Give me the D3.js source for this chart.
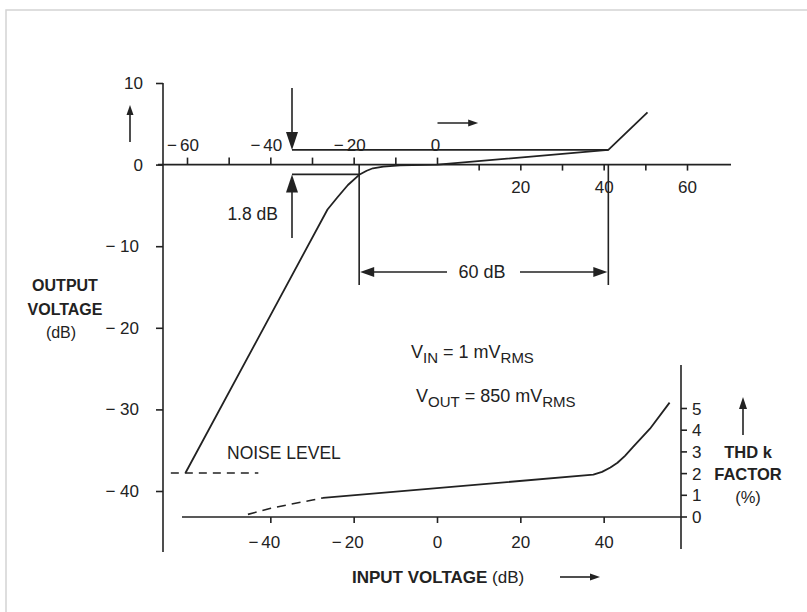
<!DOCTYPE html>
<html>
<head>
<meta charset="utf-8" />
<script src="https://d3js.org/d3.v7.min.js"></script>
<style>
  body { margin: 0; background: #fff; }
  text { font-family: "Liberation Sans", Arial, sans-serif; fill: #222; }
  .bold { font-weight: bold; }
</style>
</head>
<body>
<script>
// transfer curve: output level (dB) vs input level (dB)
const transferIn  = [-60.5, -26.4, -24, -21.5, -18.8, -17, -15.5, -13, -9, 0, 41, 50.4];
const transferOut = [-37.8, -5.5, -4.0, -2.5, -1.25, -0.75, -0.45, -0.25, -0.1, 0, 1.8, 6.4];

// THD k factor (%) vs input level (dB)
const thdDashIn = [-45.5, -40, -35, -30, -27.5];
const thdDashK  = [0.12, 0.4, 0.6, 0.78, 0.88];
const thdIn = [-27.5, 37.4, 39.5, 41.5, 43.2, 45, 47, 51, 55.7];
const thdK  = [0.88, 1.95, 2.08, 2.28, 2.5, 2.82, 3.24, 4.07, 5.27];

// ticks
const outTicks = [10, 0, -10, -20, -30, -40];
const inTicksTop = [-60, -50, -40, -30, -20, -10, 0, 10, 20, 30, 40, 50, 60];
const inLabelsAbove = [-60, -40, -20, 0];
const inLabelsBelow = [20, 40, 60];
const inTicksBottom = [-40, -20, 0, 20, 40];
const thdTicks = [0, 1, 2, 3, 4, 5];

// annotations
const noiseLevel = -37.8;
const noiseSpan = [-64, -43];
const kneeLow = { inp: -18.8, out: -1.2 };
const kneeHigh = { inp: 41, out: 1.8 };
const spanLabel = '60 dB';

const W = 807, H = 612;
const ink = '#222';

const svg = d3.select('body').append('svg')
  .attr('width', W).attr('height', H);

// faint scan frame
svg.append('path')
  .attr('d', `M6,${H} L6,10 L${W},10`)
  .attr('fill', 'none').attr('stroke', '#d4d4d4').attr('stroke-width', 1.5);

// scales
const xIn = d3.scaleLinear().domain([-60, 60]).range([187.5, 687.5]);
const yOut = d3.scaleLinear().domain([-40, 10]).range([491, 83]);
const yThd = d3.scaleLinear().domain([0, 5]).range([517, 408.5]);

const x0 = 163;              // output axis position
const yTop = yOut(0);        // input axis (top)
const yBot = yThd(0);        // input axis (bottom)
const xR = 681;              // thd axis position

function line(x1, y1, x2, y2, w = 1.6) {
  return svg.append('line')
    .attr('x1', x1).attr('y1', y1).attr('x2', x2).attr('y2', y2)
    .attr('stroke', ink).attr('stroke-width', w);
}

function arrow(x1, y1, x2, y2, len, half, w = 1.6) {
  const a = Math.atan2(y2 - y1, x2 - x1);
  const bx = x2 - len * Math.cos(a), by = y2 - len * Math.sin(a);
  line(x1, y1, bx + Math.cos(a), by + Math.sin(a), w);
  const px = -Math.sin(a) * half, py = Math.cos(a) * half;
  svg.append('path')
    .attr('d', `M${x2},${y2} L${bx + px},${by + py} L${bx - px},${by - py} Z`)
    .attr('fill', ink);
}

// digits centred on tick, minus hanging to the left
function numLabel(x, y, v, size = 17) {
  const t = svg.append('text')
    .attr('x', x).attr('y', y)
    .attr('text-anchor', 'middle')
    .attr('font-size', size)
    .text(Math.abs(v));
  if (v < 0) {
    const w = t.node().getComputedTextLength();
    svg.append('text')
      .attr('x', x - w / 2 - 3).attr('y', y)
      .attr('text-anchor', 'end')
      .attr('font-size', size)
      .text('−');
  }
}

// ---- output axis (left)
line(x0, yOut(10), x0, 552);
svg.append('g')
  .attr('transform', `translate(${x0},0)`)
  .call(d3.axisLeft(yOut).tickValues(outTicks).tickSize(7).tickFormat(''))
  .call(g => g.select('.domain').remove())
  .call(g => g.selectAll('.tick line').attr('stroke', ink).attr('stroke-width', 1.6));
outTicks.forEach(v => {
  svg.append('text')
    .attr('x', v < 0 ? 139 : 143).attr('y', yOut(v) + 6)
    .attr('text-anchor', 'end').attr('font-size', 17)
    .text(v < 0 ? '− ' + Math.abs(v) : v);
});
arrow(130, 142, 130, 105, 10, 3.5);

// ---- input axis (top, on 0 dB output line)
line(158, yTop, 731, yTop);
inTicksTop.forEach(v => {
  const up = v <= 0;
  line(xIn(v), yTop, xIn(v), up ? yTop - 7 : yTop + 6);
});
inLabelsAbove.forEach(v => numLabel(xIn(v) + (v === 0 ? -2 : 2), yTop - 14, v));
inLabelsBelow.forEach(v => numLabel(xIn(v), yTop + 28, v));
arrow(xIn(0), 123, xIn(10) - 1, 123, 10, 3.5);

// ---- transfer curve
const pts = transferIn.map((d, i) => [xIn(d), yOut(transferOut[i])]);
svg.append('path')
  .attr('d', d3.line()(pts))
  .attr('fill', 'none').attr('stroke', ink).attr('stroke-width', 1.8)
  .attr('stroke-linejoin', 'round');

// noise level
line(xIn(noiseSpan[0]), yOut(noiseLevel), xIn(noiseSpan[1]), yOut(noiseLevel))
  .attr('stroke-dasharray', '8,6');
svg.append('text')
  .attr('x', 227).attr('y', 459).attr('font-size', 17.5)
  .text('NOISE LEVEL');

// 1.8 dB compression marks
const xMark = 292;
line(xMark, yOut(kneeHigh.out), xIn(kneeHigh.inp), yOut(kneeHigh.out));
line(xMark, yOut(kneeLow.out), xIn(kneeLow.inp), yOut(kneeLow.out));
arrow(xMark, 88, xMark, yOut(kneeHigh.out), 18, 6);
arrow(xMark, 238, xMark, yOut(kneeLow.out), 18, 6);
svg.append('text')
  .attr('x', 278).attr('y', 220).attr('text-anchor', 'end').attr('font-size', 17.5)
  .text('1.8 dB');

// 60 dB span
const ySpan = 272;
line(xIn(kneeLow.inp), yTop, xIn(kneeLow.inp), 285);
line(xIn(kneeHigh.inp), yTop, xIn(kneeHigh.inp), 285);
arrow(447, ySpan, xIn(kneeLow.inp) + 1, ySpan, 14, 5);
arrow(520, ySpan, xIn(kneeHigh.inp) - 1, ySpan, 14, 5);
svg.append('text')
  .attr('x', 482).attr('y', ySpan + 6).attr('text-anchor', 'middle').attr('font-size', 18)
  .text(spanLabel);

// ---- input axis (bottom, THD base)
line(182, yBot, xR, yBot);
inTicksBottom.forEach(v => {
  line(xIn(v), yBot, xIn(v), yBot + 6);
  numLabel(xIn(v), yBot + 31, v);
});

// ---- THD axis (right)
line(xR, 365, xR, 549);
thdTicks.forEach(v => {
  line(xR, yThd(v), xR + 6, yThd(v));
  svg.append('text')
    .attr('x', 692).attr('y', yThd(v) + 6).attr('font-size', 17)
    .text(v);
});

// ---- THD curve
svg.append('path')
  .attr('d', d3.line()(thdDashIn.map((d, i) => [xIn(d), yThd(thdDashK[i])])))
  .attr('fill', 'none').attr('stroke', ink).attr('stroke-width', 1.6)
  .attr('stroke-dasharray', '9,6');
svg.append('path')
  .attr('d', d3.line()(thdIn.map((d, i) => [xIn(d), yThd(thdK[i])])))
  .attr('fill', 'none').attr('stroke', ink).attr('stroke-width', 1.8)
  .attr('stroke-linejoin', 'round');

// ---- conditions
const vin = svg.append('text').attr('x', 411).attr('y', 358).attr('font-size', 18);
vin.append('tspan').text('V');
vin.append('tspan').attr('dy', 5).attr('font-size', 15).text('IN');
vin.append('tspan').attr('dy', -5).text(' = 1 mV');
vin.append('tspan').attr('dy', 5).attr('font-size', 15).text('RMS');

const vout = svg.append('text').attr('x', 416).attr('y', 402).attr('font-size', 18);
vout.append('tspan').text('V');
vout.append('tspan').attr('dy', 5).attr('font-size', 15).text('OUT');
vout.append('tspan').attr('dy', -5).text(' = 850 mV');
vout.append('tspan').attr('dy', 5).attr('font-size', 15).text('RMS');

// ---- axis titles
[['OUTPUT', 291, true, 65], ['VOLTAGE', 315, true, 65], ['(dB)', 338, false, 61]].forEach(([t, y, b, x]) => {
  svg.append('text')
    .attr('x', x).attr('y', y).attr('text-anchor', 'middle').attr('font-size', 16)
    .classed('bold', b).text(t);
});

[['THD k', 458, true], ['FACTOR', 480, true], ['(%)', 503, false]].forEach(([t, y, b]) => {
  svg.append('text')
    .attr('x', 748).attr('y', y).attr('text-anchor', 'middle').attr('font-size', 16.5)
    .classed('bold', b).text(t);
});
arrow(743, 435, 743, 397, 12, 4);

const xt = svg.append('text').attr('x', 352).attr('y', 583).attr('font-size', 17);
xt.append('tspan').attr('class', 'bold').text('INPUT VOLTAGE ');
xt.append('tspan').text('(dB)');
arrow(560, 577, 600, 577, 10, 3.5);
</script>
</body>
</html>
